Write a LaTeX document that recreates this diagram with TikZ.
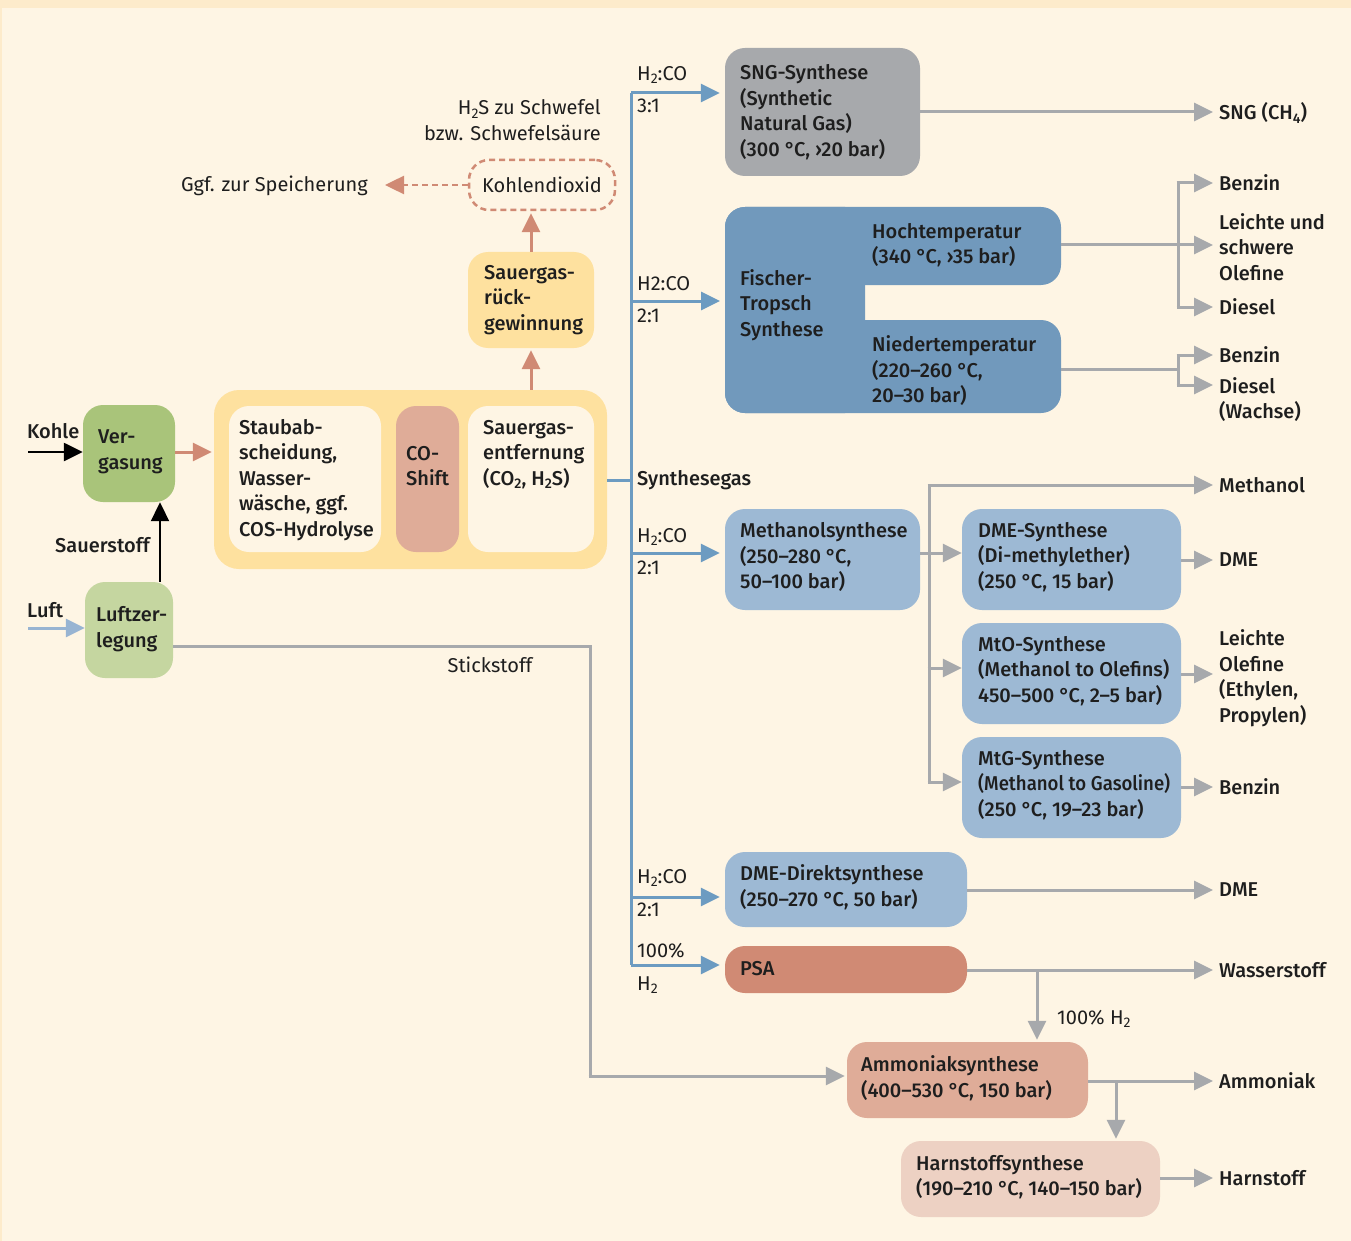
\documentclass[tikz,border=0pt]{standalone}
\usepackage{fontspec}
\setmainfont{Fira Sans}[BoldFont={Fira Sans Medium}]
\usetikzlibrary{arrows.meta}
\definecolor{bg}{HTML}{FEF5E4}
\definecolor{bgtop}{HTML}{FDEBCB}
\definecolor{txt}{HTML}{1E1E1E}
\definecolor{grayline}{HTML}{A7A9AC}
\definecolor{blueline}{HTML}{6C9BC1}
\definecolor{luftline}{HTML}{98B4D2}
\definecolor{salmon}{HTML}{D08A74}
\definecolor{gvg}{HTML}{A9C47A}
\definecolor{glz}{HTML}{C5D6A0}
\definecolor{yel}{HTML}{FEE19F}
\definecolor{coshift}{HTML}{DFAC98}
\definecolor{sngfill}{HTML}{A7A9AC}
\definecolor{ftblue}{HTML}{7199BC}
\definecolor{lblue}{HTML}{9DB9D4}
\definecolor{psafill}{HTML}{D08A74}
\definecolor{amfill}{HTML}{DFAC98}
\definecolor{hsfill}{HTML}{EDD1C3}
\newcommand{\sub}[1]{\raisebox{-0.32ex}{\fontsize{14}{14}\selectfont #1}}
\newcommand{\dC}{°\kern-1.2pt C}
\newcommand{\fs}{\fontsize{20}{25.5}\selectfont}
\tikzset{
  every node/.style={text=txt, font=\fs},
  boxs/.style={rounded corners=20pt, inner sep=0pt, draw=none},
  btxt/.style={inner sep=0pt, align=left, font=\bfseries\fs},
  outl/.style={anchor=west, inner sep=0pt, align=left, font=\bfseries\fs},
  plain/.style={inner sep=0pt, align=left},
  garr/.style={draw=grayline, line width=3pt, -{Triangle[length=19pt,width=18pt]}},
  gline/.style={draw=grayline, line width=3pt},
  barr/.style={draw=blueline, line width=3pt, -{Triangle[length=19pt,width=18pt]}},
  bline/.style={draw=blueline, line width=3pt},
  sarr/.style={draw=salmon, line width=3pt, -{Triangle[length=19pt,width=18pt]}},
  karr/.style={draw=black, line width=2.5pt, -{Triangle[length=19pt,width=18pt]}},
}
% name, fill, x1, y1, x2, y2, text x, text y, text
\newcommand{\pbox}[9]{%
  \node[boxs, fill=#2, minimum width={(#5-#3)*1pt}, minimum height={(#6-#4)*1pt}] (#1) at ({(#3+#5)/2},{(#4+#6)/2}) {};
  \node[btxt, anchor=west] (#1t) at (#7,#8) {#9};}
\begin{document}
\begin{tikzpicture}[x=1pt,y=-1pt]
\useasboundingbox (0,0) rectangle (1351,1241);
\fill[bg] (0,0) rectangle (1351,1241);
\fill[bgtop] (0,0) rectangle (1351,8);
\fill[bgtop] (0,0) rectangle (2,1241);

% ---- left part
\pbox{vg}{gvg}{83}{405}{175}{502}{98}{452}{Ver-\\gasung}
\pbox{lz}{glz}{85}{582}{173}{678}{96}{629}{Luftzer-\\legung}
\coordinate (kohle) at (28,452);
\coordinate (luft) at (28,628);
\node[outl] (kohleL) at (27,431) {Kohle};
\node[outl] (luftL) at (27,610) {Luft};
\node[outl] (sauerL) at (55,545) {Sauerstoff};
\draw[karr] (kohle) -- (vg.west |- kohle);
\draw[draw=luftline, line width=3pt, -{Triangle[length=19pt,width=18pt]}] (luft) -- (lz.west |- luft);
\draw[karr, line width=2pt] (lz.north -| 160,0) -- (vg.south -| 160,0);

% big yellow box
\node[boxs, fill=yel, rounded corners=25pt, minimum width=393pt, minimum height=179pt] (big) at (410.5,479.5) {};
\pbox{st}{bg}{229}{406}{381}{552}{239}{480}{Staubab-\\scheidung,\\Wasser-\\wäsche, ggf.\\COS-Hydrolyse}
\pbox{co}{coshift}{396}{406}{459}{552}{406}{466}{CO-\\Shift}
\node[boxs, fill=bg, minimum width=126pt, minimum height=146pt] (sg) at (531,479) {};
\node[btxt, anchor=north west] (sgt) at (483,420) {Sauergas-\\entfernung\\(CO\sub{2}, H\sub{2}S)};
\draw[sarr, shorten >=2pt] (vg.east |- 0,452) -- (big.west |- 0,452);

\pbox{sr}{yel}{468}{252}{594}{348}{484}{300}{Sauergas-\\rück-\\gewinnung}
\node[draw=salmon, dash pattern=on 6pt off 4pt, line width=2.5pt, rounded corners=20pt, minimum width=146pt, minimum height=50pt, inner sep=0pt] (kd) at (542,185) {Kohlendioxid};
\draw[sarr, shorten >=2pt] (big.north -| sr) -- (sr.south);
\draw[sarr, shorten >=2pt] (sr.north) -- (kd.south -| sr);
\coordinate (spe) at (385,185);
\draw[draw=salmon, line width=2.5pt, dash pattern=on 6pt off 4pt, -{Triangle[length=19pt,width=18pt]}] (kd.west) -- (spe);
\node[plain, anchor=east] (speL) at (368,186) {Ggf. zur Speicherung};
\node[plain, anchor=east, align=right] (h2sL) at (601,120) {H\sub{2}S zu Schwefel\\bzw. Schwefelsäure};

% Stickstoff
\node[plain] (stickL) at (490,665) {Stickstoff};

% ---- trunk
\coordinate (t0) at (631,93);
\coordinate (t1) at (631,965);
\draw[bline] (big.east |- 0,480) -- (631,480);
\draw[bline] (t0) -- (t1);
\node[outl] (synL) at (637,480) {Synthesegas};

% SNG
\pbox{sng}{sngfill}{725}{48}{920}{176}{740}{112}{SNG-Synthese\\(Synthetic\\Natural Gas)\\(300 \dC, ›20 bar)}
\draw[barr, shorten >=5pt] (t0) -- (sng.west |- t0);
\node[plain, anchor=west] at (637,75) {H\sub{2}:CO};
\node[plain, anchor=west] at (637,106) {3:1};
\draw[garr] (sng.east |- 0,112) -- (1213,112);
\node[outl] (sngO) at (1219,113) {SNG (CH\sub{4})};

% Fischer-Tropsch
\fill[ftblue, rounded corners=20pt] (725,207) rectangle (1061,285);
\fill[ftblue, rounded corners=20pt] (725,320) rectangle (1061,413);
\fill[ftblue, rounded corners=20pt] (725,207) rectangle (865,413);
\coordinate (ftw) at (725,301);
\node[btxt, anchor=west] (ft) at (740,305) {Fischer-\\Tropsch\\Synthese};
\node[btxt, anchor=west] (ht) at (872,245) {Hochtemperatur\\(340 \dC, ›35 bar)};
\node[btxt, anchor=west] (nt) at (872,371) {Niedertemperatur\\(220–260 \dC,\\20–30 bar)};
\coordinate (hte) at (1061,245);
\coordinate (nte) at (1061,369);
\draw[barr, shorten >=5pt] (631,301) -- (ftw);
\node[plain, anchor=west] at (637,284) {H2:CO};
\node[plain, anchor=west] at (637,316) {2:1};

\draw[gline] (hte) -- (1178,245);
\draw[gline] (1178,183) -- (1178,307);
\draw[garr] (1176.5,183) -- (1213,183);
\draw[garr] (1178,245) -- (1213,245);
\draw[garr] (1176.5,307) -- (1213,307);
\node[outl] at (1219,183) {Benzin};
\node[outl] at (1219,247) {Leichte und\\schwere\\Olefine};
\node[outl] at (1219,307) {Diesel};

\draw[gline] (nte) -- (1178,369);
\draw[gline] (1178,355) -- (1178,385);
\draw[garr] (1176.5,355) -- (1213,355);
\draw[garr] (1176.5,385) -- (1213,385);
\node[outl] at (1219,355) {Benzin};
\node[outl, anchor=north west] at (1219,377) {Diesel\\(Wachse)};

% Methanol
\pbox{meth}{lblue}{725}{509}{920}{610}{740}{557}{Methanolsynthese\\(250–280 \dC,\\50–100 bar)}
\draw[barr, shorten >=5pt] (631,553) -- (meth.west |- 0,553);
\node[plain, anchor=west] at (637,537) {H\sub{2}:CO};
\node[plain, anchor=west] at (637,568) {2:1};

\pbox{dme}{lblue}{962}{509}{1181}{610}{978}{557}{DME-Synthese\\(Di-methylether)\\(250 \dC, 15 bar)}
\pbox{mto}{lblue}{962}{623}{1181}{724}{978}{671}{MtO-Synthese\\(Methanol to Olefins)\\450–500 \dC, 2–5 bar)}
\pbox{mtg}{lblue}{962}{737}{1181}{838}{978}{785}{MtG-Synthese\\{\addfontfeature{FakeStretch=0.93}(Methanol to Gasoline)}\\(250 \dC, 19–23 bar)}

\draw[gline] (meth.east |- 0,553) -- (929,553);
\draw[gline] (929,485) -- (929,782);
\draw[garr] (927.5,485) -- (1213,485);
\draw[garr] (929,553) -- (dme.west |- 0,553);
\draw[garr] (927.5,668) -- (mto.west |- 0,668);
\draw[garr] (927.5,782) -- (mtg.west |- 0,782);
\node[outl] at (1219,485) {Methanol};

\draw[garr] (dme.east |- 0,560) -- (1213,560);
\node[outl] at (1219,560) {DME};
\draw[garr] (mto.east |- 0,674) -- (1213,674);
\node[outl] at (1219,678) {Leichte\\Olefine\\(Ethylen,\\Propylen)};
\draw[garr] (mtg.east |- 0,787) -- (1213,787);
\node[outl] at (1219,787) {Benzin};

% DME direkt
\pbox{dd}{lblue}{725}{852}{967}{927}{740}{887}{DME-Direktsynthese\\(250–270 \dC, 50 bar)}
\draw[barr, shorten >=5pt] (631,897) -- (dd.west |- 0,897);
\node[plain, anchor=west] at (637,878) {H\sub{2}:CO};
\node[plain, anchor=west] at (637,910) {2:1};
\draw[garr] (dd.east |- 0,890) -- (1213,890);
\node[outl] at (1219,890) {DME};

% PSA
\pbox{psa}{psafill}{725}{946}{967}{993}{740}{969}{PSA}
\draw[barr, shorten >=5pt] (t1) -- (psa.west |- t1);
\node[plain, anchor=west] at (637,951) {100\%};
\node[plain, anchor=west] at (637,985) {H\sub{2}};
\draw[garr] (psa.east |- 0,970) -- (1213,970);
\node[outl] at (1219,970) {Wasserstoff};

% Ammoniak
\pbox{am}{amfill}{847}{1042}{1088}{1118}{861}{1078}{Ammoniaksynthese\\(400–530 \dC, 150 bar)}
\draw[garr, shorten >=2pt] (1037,970) -- (am.north -| 1037,0);
\node[plain, anchor=west] at (1057,1019) {100\% H\sub{2}};
\draw[garr] (am.east |- 0,1081) -- (1213,1081);
\node[outl] at (1219,1081) {Ammoniak};
\draw[gline] (lz.east |- 0,646) -- (590,646) -- (590,1076);
\draw[garr, shorten >=2pt] (588.5,1076) -- (am.west |- 0,1076);

% Harnstoff
\pbox{hs}{hsfill}{901}{1141}{1160}{1217}{916}{1177}{Harnstoffsynthese\\(190–210 \dC, 140–150 bar)}
\draw[garr, shorten >=2pt] (1116,1081) -- (hs.north -| 1116,0);
\draw[garr] (hs.east |- 0,1178) -- (1213,1178);
\node[outl] at (1219,1178) {Harnstoff};
\end{tikzpicture}
\end{document}
